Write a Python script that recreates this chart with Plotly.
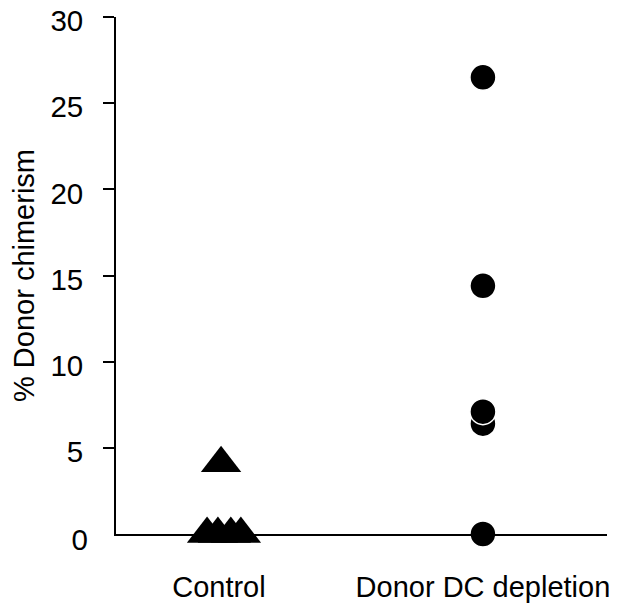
import plotly.graph_objects as go

# Data
categories = ["Control", "Donor DC depletion"]
category_pos = [1, 2]
control_x = [0.955, 0.996, 1.045, 1.083, 1.008]
control_y = [0.0, 0.0, 0.0, 0.0, 4.1]
depletion_x = [2.0, 2.0, 2.0, 2.0, 2.0]
depletion_y = [26.5, 14.4, 6.4, 7.1, 0.0]
y_ticks = [5, 10, 15, 20, 25, 30]
y_zero_tick = [0]

FONT = "Liberation Sans, Arial, sans-serif"

fig = go.Figure()
fig.add_trace(go.Scatter(
    x=control_x, y=control_y, mode="markers", cliponaxis=False,
    marker=dict(symbol="triangle-up", size=35, color="black", line=dict(width=0)),
    showlegend=False,
))
fig.add_trace(go.Scatter(
    x=depletion_x, y=depletion_y, mode="markers", cliponaxis=False,
    marker=dict(symbol="circle", size=26, color="black", line=dict(width=1.5, color="white")),
    showlegend=False,
))
# invisible trace for the zero label axis
fig.add_trace(go.Scatter(x=[None], y=[None], yaxis="y2", showlegend=False))

fig.update_layout(
    width=622, height=604,
    margin=dict(l=108, r=23, t=9, b=78),
    paper_bgcolor="white", plot_bgcolor="white",
    font=dict(family=FONT, size=29, color="black"),
    xaxis=dict(
        range=[0.61, 2.47], tickvals=category_pos, ticktext=categories,
        showline=True, linecolor="black", linewidth=1.7, ticks="",
        showgrid=False, zeroline=False, ticklabelstandoff=26,
        tickfont=dict(size=29),
    ),
    yaxis=dict(
        range=[0, 30], tickvals=y_ticks, showline=True, linecolor="black",
        linewidth=1.7, ticks="outside", ticklen=11, tickwidth=1.7, tickcolor="black",
        showgrid=False, zeroline=False, ticklabelstandoff=14, ticklabelshift=4,
        ticklabeloverflow="allow", tickfont=dict(size=29.5), automargin=False,
        title=dict(text="% Donor chimerism", font=dict(size=29), standoff=10),
    ),
    yaxis2=dict(
        range=[0, 30], overlaying="y", side="left", tickvals=y_zero_tick,
        ticks="", showline=False, showgrid=False, zeroline=False,
        ticklabelstandoff=27, ticklabelshift=6, ticklabeloverflow="allow",
        tickfont=dict(size=29.5),
    ),
)

fig.write_html("out.html")
